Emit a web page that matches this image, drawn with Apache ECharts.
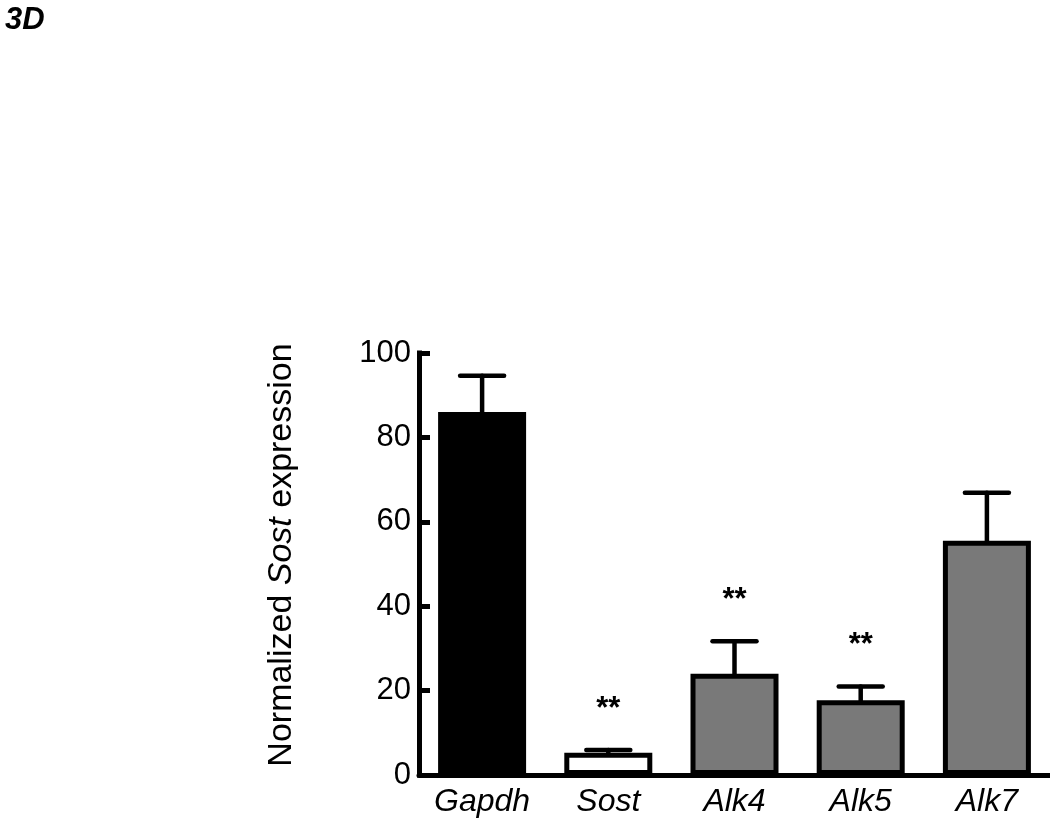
<!DOCTYPE html>
<html>
<head>
<meta charset="utf-8">
<script src="https://cdn.jsdelivr.net/npm/echarts@6/dist/echarts.min.js"></script>
<style>
html,body{margin:0;padding:0;background:#fff;}
#chart{width:1050px;height:819px;}
</style>
</head>
<body>
<div id="chart"></div>
<script>
var categories = ['Gapdh', 'Sost', 'Alk4', 'Alk5', 'Alk7'];
var means = [86.0, 5.3, 24.0, 17.7, 55.5];
var sems = [8.6, 0.6, 7.7, 3.3, 11.4];
var significance = ['', '**', '**', '**', ''];
var barColors = ['#000000', '#ffffff', '#797979', '#797979', '#797979'];
var yTicks = [0, 20, 40, 60, 80, 100];

var FONT = 'Liberation Sans, Arial, Helvetica, sans-serif';

var chart = echarts.init(document.getElementById('chart'));

var barData = means.map(function (v, i) {
  return { value: v, itemStyle: { color: barColors[i] } };
});
var errData = means.map(function (v, i) {
  return [i, v, sems[i], significance[i]];
});

var option = {
  animation: false,
  backgroundColor: '#ffffff',
  title: {
    text: '3D',
    left: 0,
    top: 0,
    textStyle: { fontFamily: FONT, fontSize: 31, fontWeight: 'bold', fontStyle: 'italic', color: '#000' }
  },
  grid: { left: 419, right: 0, top: 353, bottom: 44, containLabel: false, outerBoundsMode: 'none' },
  xAxis: {
    type: 'category',
    data: categories,
    axisLine: { show: true, lineStyle: { color: '#000', width: 5 } },
    axisTick: { show: false },
    axisLabel: { fontFamily: FONT, fontSize: 32, fontStyle: 'italic', color: '#000', margin: 11 }
  },
  yAxis: {
    type: 'value',
    min: yTicks[0],
    max: yTicks[yTicks.length - 1],
    interval: 20,
    splitLine: { show: false },
    axisLine: { show: true, lineStyle: { color: '#000', width: 5, cap: 'square' } },
    axisTick: { show: true, inside: true, length: 11, lineStyle: { color: '#000', width: 5 } },
    axisLabel: { fontFamily: FONT, fontSize: 31, color: '#000', margin: 8 },
    name: '{n|Normalized }{i|Sost}{n| expression}',
    nameLocation: 'middle',
    nameRotate: 90,
    nameGap: 120,
    nameTextStyle: {
      padding: [0, 0, 0, 18],
      rich: {
        n: { fontFamily: FONT, fontSize: 34, color: '#000' },
        i: { fontFamily: FONT, fontSize: 34, fontStyle: 'italic', color: '#000' }
      }
    }
  },
  series: [
    {
      type: 'bar',
      data: barData,
      barWidth: 88,
      itemStyle: { borderColor: '#000', borderWidth: 5 },
      z: 2
    },
    {
      type: 'custom',
      data: errData,
      z: 3,
      renderItem: function (params, api) {
        var idx = api.value(0);
        var m = api.value(1);
        var s = api.value(2);
        var sig = errData[params.dataIndex][3];
        var base = api.coord([idx, m]);
        var top = api.coord([idx, m + s]);
        var hw = 22;
        var style = { stroke: '#000', lineWidth: 4.5, lineCap: 'round' };
        var children = [
          { type: 'line', shape: { x1: base[0], y1: base[1], x2: top[0], y2: top[1] }, style: style },
          { type: 'line', shape: { x1: top[0] - hw, y1: top[1], x2: top[0] + hw, y2: top[1] }, style: style }
        ];
        if (sig) {
          children.push({
            type: 'text',
            x: top[0],
            y: top[1] - 41,
            style: { text: sig, fontFamily: FONT, fontSize: 31, fontWeight: 'bold', fill: '#000', align: 'center', verticalAlign: 'middle' }
          });
        }
        return { type: 'group', children: children };
      }
    }
  ]
};
chart.setOption(option);
</script>
</body>
</html>
